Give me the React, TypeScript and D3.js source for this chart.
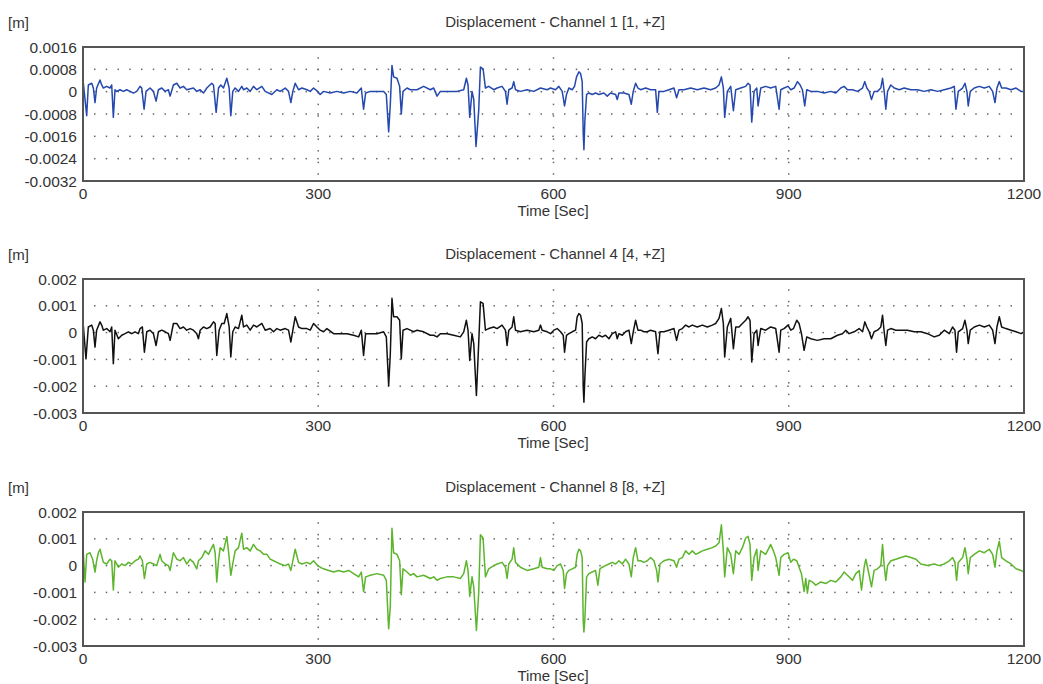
import * as d3 from 'd3'

// Time axis (seconds)
const xTicks = [0, 300, 600, 900, 1200]
const ch1Ticks = [0.0016, 0.0008, 0, -0.0008, -0.0016, -0.0024, -0.0032]
const ch48Ticks = [0.002, 0.001, 0, -0.001, -0.002, -0.003]

const titles = [
  'Displacement - Channel 1 [1, +Z]',
  'Displacement - Channel 4 [4, +Z]',
  'Displacement - Channel 8 [8, +Z]',
]

// [time s, displacement mm]
const ch1: [number, number][] = [
  [0, 0.42], [4.7, -0.86], [6.8, 0.24], [11.1, 0.3], [13.2, 0.13], [15.3, -0.39], [17.4, 0.13], [21.7, 0.42], [23.8, 0.24], [26, 0.13],
  [30.2, 0.19], [34.5, 0.13], [36.6, 0.24], [38.7, -0.92], [40.8, 0.07], [43, 0.01], [47.2, 0.07], [51.5, 0.01], [55.7, 0.07], [60, 0.01],
  [64.3, -0.05], [68.5, 0.01], [72.8, 0.19], [74.9, 0.13], [77.9, -0.63], [80.4, 0.01], [85.5, 0.13], [89.8, 0.01], [93.2, -0.34], [96.2, 0.07],
  [100.4, 0.13], [104.7, 0.01], [108.9, 0.07], [111.1, -0.16], [115.3, 0.24], [119.6, 0.3], [123.8, 0.13], [128.1, 0.19], [132.3, 0.07], [140.8, 0.13],
  [145.1, 0.01], [149.4, 0.07], [153.6, -0.05], [157.9, 0.13], [164.2, 0.3], [166.4, 0.24], [169.8, -0.74], [172.8, 0.13], [175.7, 0.24], [179.1, 0.13],
  [183.4, 0.48], [186.4, 0.13], [188.5, -0.86], [191, 0.01], [194, 0.13], [198.3, 0.01], [202.5, 0.19], [204.7, 0.07], [208.9, 0.13], [213.2, 0.01],
  [217.4, 0.19], [221.7, 0.07], [228.1, 0.19], [232.3, 0.01], [240.8, -0.1], [247.2, 0.07], [251.5, 0.01], [257.9, 0.13], [262.1, 0.01], [265.1, -0.39],
  [267.6, 0.01], [270.6, 0.3], [274.9, 0.07], [279.1, 0.13], [285.5, 0.07], [289.8, 0.01], [294, 0.13], [299.1, 0.01], [302.5, -0.1], [306.8, 0.01],
  [315.3, -0.05], [323.8, 0.01], [332.3, -0.05], [340.8, 0.01], [349.3, -0.05], [354.9, 0.13], [357.8, -0.63], [360.4, -0.05], [366.4, 0.01], [374.9, 0.01],
  [383.4, 0.01], [386.8, -0.1], [389.8, -1.44], [391.9, -0.45], [394, 0.94], [396.1, 0.53], [400.4, 0.48], [403.8, 0.19], [405.9, -0.8], [408.1, 0.01],
  [413.2, 0.13], [417.4, 0.07], [425.9, 0.07], [434.4, 0.19], [442.9, 0.07], [447.2, 0.13], [451.5, -0.16], [455.7, 0.01], [464.2, 0.01], [477, 0.01],
  [485.5, 0.07], [488.9, 0.48], [491, 0.24], [493.2, -0.92], [496.1, 0.01], [498.3, -0.28], [501.2, -1.96], [504.6, -0.68], [506.8, 0.88], [510.2, 0.82],
  [513.2, 0.13], [517.4, 0.19], [523.8, 0.07], [528.1, 0.13], [534.4, 0.19], [538.7, 0.01], [540.8, -0.45], [543, 0.07], [547.2, 0.13], [549.3, 0.36],
  [551.5, 0.07], [557.8, 0.01], [566.3, 0.07], [574.9, 0.01], [583.4, 0.13], [591.9, 0.07], [596.2, 0.13], [602.6, 0.07], [606.8, 0.19], [611.1, 0.01],
  [614.1, -0.51], [616.6, -0.1], [619.6, 0.13], [623.9, 0.07], [626.8, 0.19], [629.4, 0.53], [632.4, 0.71], [634.5, 0.65], [636.6, 0.36], [637.9, -1.49],
  [638.8, -2.08], [640, -1.04], [642.2, -0.1], [645.1, -0.05], [649.4, -0.1], [653.6, -0.05], [657.9, -0.1], [664.3, -0.05], [668.5, -0.16], [672.8, -0.05],
  [679.2, -0.1], [681.3, -0.28], [683.4, -0.05], [689.8, -0.05], [696.2, -0.1], [699.2, -0.45], [701.7, 0.01], [704.7, 0.3], [707.7, 0.13], [711.1, 0.07],
  [717.5, 0.13], [723.9, 0.07], [730.2, 0.07], [732.4, -0.74], [734.5, 0.01], [740.9, 0.01], [747.2, 0.07], [753.6, 0.13], [757, -0.22], [760, 0.07],
  [766.4, 0.07], [774.9, 0.13], [783.4, 0.07], [791.9, 0.13], [800.4, 0.07], [806.8, 0.13], [811.1, 0.24], [814.1, 0.53], [816.6, 0.13], [818.3, -0.92],
  [821.7, 0.01], [826, 0.19], [829.4, -0.68], [832.4, 0.07], [838.7, 0.13], [845.1, 0.19], [848.1, 0.3], [850.6, 0.24], [852.8, -1.09], [855.8, 0.01],
  [859.2, 0.13], [860.9, -0.51], [864.3, 0.13], [870.6, 0.19], [877, 0.13], [883.4, 0.19], [887.7, -0.63], [889.8, 0.07], [894.1, 0.13], [899.1, 0.19],
  [902.6, 0.07], [906.8, 0.13], [911.1, 0.36], [914.5, 0.24], [917.4, 0.07], [920.4, -0.51], [923, 0.07], [928.1, 0.01], [936.6, 0.01], [945.1, -0.05],
  [953.6, 0.01], [960, -0.05], [966.4, 0.13], [970.6, 0.19], [974.9, 0.07], [981.3, 0.07], [987.7, 0.01], [994.1, 0.13], [997, 0.36], [999.6, 0.13],
  [1002.6, 0.01], [1005.5, -0.28], [1008.9, 0.01], [1013.2, 0.01], [1017.4, 0.13], [1019.6, 0.48], [1021.7, 0.01], [1023.8, -0.63], [1026, 0.01], [1030.2, 0.24],
  [1034.5, 0.13], [1040.8, 0.07], [1047.2, 0.13], [1055.7, 0.07], [1064.2, 0.07], [1072.8, 0.01], [1081.3, 0.07], [1089.8, 0.01], [1098.3, 0.07], [1106.8, 0.13],
  [1111.1, 0.19], [1113.2, -0.63], [1116.2, 0.01], [1121.7, 0.13], [1124.7, 0.3], [1127.2, 0.01], [1128.9, -0.51], [1131.5, 0.01], [1136.6, 0.13], [1143, 0.19],
  [1149.4, 0.13], [1155.7, 0.19], [1160, 0.01], [1163, -0.39], [1165.5, 0.13], [1168.5, 0.36], [1171.5, 0.13], [1177, 0.13], [1183.4, 0.07], [1189.8, 0.13],
  [1196.2, 0.01], [1200, 0.01],
]

const ch4: [number, number][] = [
  [0, 0.4], [3.8, -0.98], [6.8, 0.21], [11.1, 0.28], [13.2, 0.09], [15.3, -0.54], [17.4, 0.09], [21.7, 0.4], [23.8, 0.28], [26, 0.09],
  [30.2, 0.15], [34.5, 0.03], [36.6, 0.21], [38.7, -1.16], [40.8, 0.09], [45.1, -0.23], [49.4, -0.1], [53.6, -0.04], [57.9, 0.03], [62.1, -0.04],
  [66.4, 0.03], [70.6, -0.04], [72.8, 0.15], [75.7, 0.21], [78.3, -0.73], [81.3, 0.03], [85.5, 0.09], [89.8, -0.04], [93.2, -0.48], [96.2, 0.03],
  [100.4, 0.09], [104.7, 0.03], [108.9, -0.04], [111.1, -0.29], [115.3, 0.34], [119.6, 0.34], [123.8, 0.15], [128.1, 0.21], [132.3, 0.09], [136.6, 0.15],
  [140.8, 0.09], [145.1, -0.04], [147.2, -0.23], [149.4, 0.09], [153.6, 0.21], [157.9, 0.15], [162.1, 0.21], [166.4, 0.4], [168.5, 0.34], [170.6, -0.85],
  [173.6, 0.09], [177, 0.34], [180, 0.34], [183.4, 0.71], [186.4, 0.21], [188.5, -0.91], [191, 0.03], [194, 0.21], [198.3, 0.15], [202.5, 0.65],
  [204.7, 0.21], [208.9, 0.28], [213.2, 0.09], [217.4, 0.28], [221.7, 0.21], [228.1, 0.34], [232.3, 0.09], [238.7, 0.15], [243, 0.03], [247.2, 0.15],
  [251.5, 0.09], [257.9, 0.15], [262.1, 0.09], [265.1, -0.35], [267.6, 0.09], [270.6, 0.59], [274.9, 0.21], [279.1, 0.15], [285.5, 0.15], [289.8, 0.09],
  [294, 0.34], [298.3, 0.21], [302.5, 0.09], [306.8, 0.03], [311, 0.15], [319.6, -0.04], [328.1, -0.04], [336.6, -0.04], [345.1, -0.1], [351.5, -0.16],
  [354.9, 0.09], [357.8, -0.85], [360.4, -0.04], [366.4, -0.04], [374.9, -0.04], [383.4, 0.03], [386.8, -0.16], [389.8, -1.98], [391.9, -0.79], [394, 1.28],
  [396.1, 0.59], [400.4, 0.59], [403.8, 0.46], [405.9, -0.98], [408.1, 0.09], [413.2, 0.15], [417.4, 0.09], [421.7, 0.03], [425.9, 0.09], [434.4, 0.03],
  [442.9, -0.1], [447.2, -0.1], [451.5, -0.16], [455.7, -0.04], [464.2, -0.04], [472.7, -0.1], [481.2, -0.16], [485.5, 0.03], [488.9, 0.46], [491, 0.09],
  [493.2, -1.04], [496.1, -0.04], [498.3, -0.41], [501.7, -2.35], [504.6, -0.41], [506.8, 1.15], [510.2, 1.09], [513.2, 0.09], [517.4, 0.15], [523.8, 0.21],
  [528.1, 0.15], [534.4, 0.28], [538.7, 0.09], [540.8, -0.48], [543, 0.09], [547.2, 0.21], [549.3, 0.59], [551.5, 0.09], [557.8, 0.03], [566.3, 0.09],
  [574.9, 0.03], [581.3, 0.09], [583.4, 0.28], [585.5, 0.09], [591.9, 0.03], [596.2, -0.04], [600.5, 0.09], [604.7, 0.15], [609, 0.03], [612.4, -0.1],
  [614.1, -0.73], [616.6, -0.1], [619.6, -0.04], [623.9, 0.03], [628.1, 0.09], [630.2, 0.59], [632.4, 0.71], [634.5, 0.65], [636.6, 0.34], [637.9, -2.04],
  [638.8, -2.6], [640, -1.66], [642.2, -0.35], [645.1, -0.23], [649.4, -0.16], [653.6, -0.23], [657.9, -0.1], [662.2, -0.16], [666.4, -0.1], [670.7, -0.23],
  [674.9, -0.04], [679.2, 0.03], [681.3, -0.23], [683.4, -0.04], [687.7, -0.1], [691.9, 0.03], [696.2, 0.09], [699.2, -0.41], [701.7, 0.03], [704.7, 0.46],
  [707.7, 0.09], [711.1, 0.09], [715.3, 0.03], [719.6, 0.03], [723.9, 0.09], [730.2, 0.03], [733.2, -0.79], [735.8, 0.03], [740.9, 0.03], [747.2, 0.09],
  [753.6, 0.15], [757, -0.29], [760, 0.09], [764.3, 0.15], [768.5, 0.28], [772.8, 0.21], [777, 0.28], [783.4, 0.21], [789.8, 0.28], [796.2, 0.21],
  [802.6, 0.28], [806.8, 0.34], [811.1, 0.53], [814.1, 0.9], [816.6, 0.34], [818.3, -0.91], [821.7, 0.21], [826, 0.53], [829.4, -0.6], [832.4, 0.21],
  [836.6, 0.21], [840.9, 0.34], [845.1, 0.46], [848.1, 0.59], [850.6, 0.46], [852.8, -1.1], [855.8, -0.04], [859.2, 0.09], [860.9, -0.48], [864.3, 0.15],
  [870.6, 0.09], [877, 0.21], [883.4, 0.15], [887.7, -0.73], [889.8, 0.09], [894.1, 0.15], [899.1, 0.28], [902.6, 0.09], [906, 0.15], [910.2, 0.46],
  [913.2, 0.34], [916.2, -0.04], [919.6, -0.66], [923, -0.16], [928.1, -0.23], [936.6, -0.29], [945.1, -0.23], [953.6, -0.23], [962.1, -0.1], [968.5, -0.04],
  [972.8, 0.09], [977, -0.04], [983.4, 0.03], [989.8, 0.15], [994.1, 0.03], [997, 0.4], [999.6, 0.21], [1002.6, 0.03], [1005.5, -0.23], [1008.9, 0.03],
  [1013.2, 0.09], [1017.4, 0.21], [1019.6, 0.65], [1021.7, 0.03], [1023.8, -0.48], [1026, 0.09], [1030.2, 0.15], [1036.6, 0.09], [1043, 0.09], [1051.5, 0.09],
  [1060, 0.03], [1068.5, 0.03], [1077, -0.04], [1085.5, -0.16], [1091.9, -0.1], [1098.3, 0.09], [1104.7, -0.04], [1108.9, 0.21], [1111.9, 0.09], [1114, -0.73],
  [1116.2, 0.03], [1121.7, 0.15], [1124.7, 0.46], [1127.2, 0.09], [1128.9, -0.41], [1131.5, 0.09], [1136.6, 0.21], [1143, 0.28], [1149.4, 0.21], [1155.7, 0.28],
  [1160, 0.09], [1163, -0.41], [1165.5, 0.21], [1168.5, 0.59], [1171.5, 0.21], [1177, 0.15], [1183.4, 0.09], [1189.8, 0.03], [1196.2, -0.04], [1200, 0.03],
]

const ch8: [number, number][] = [
  [0, 0.67], [2.6, -0.61], [4.7, 0.42], [8.9, 0.48], [12.3, 0.24], [15.3, -0.24], [17.4, 0.18], [19.6, 0.48], [21.7, 0.61], [23.8, 0.36],
  [26, 0.12], [30.2, 0.06], [34.5, 0.24], [36.6, 0.18], [38.7, -0.91], [40.8, 0.18], [45.1, -0.06], [49.4, 0.06], [53.6, 0], [57.9, 0.12],
  [62.1, 0.06], [66.4, 0.18], [70.6, 0.24], [72.8, 0.36], [75.7, 0.18], [78.3, -0.48], [81.3, 0.06], [85.5, 0.12], [89.8, 0.06], [94, 0],
  [98.3, 0.42], [100.4, 0.18], [104.7, 0.06], [108.9, 0], [111.1, -0.18], [115.3, 0.48], [119.6, 0.24], [123.8, 0.18], [128.1, 0.3], [132.3, 0.06],
  [136.6, 0.24], [140.8, 0.12], [145.1, -0.12], [147.2, 0.18], [151.5, 0.3], [155.7, 0.55], [160, 0.42], [164.2, 0.67], [166.4, 0.79], [168.5, 0.48],
  [170.6, -0.61], [172.8, 0.18], [174.9, 0.67], [179.1, 0.55], [183.4, 1.09], [185.5, 0.55], [188.5, -0.36], [191, 0.06], [194, 0.55], [198.3, 0.67],
  [202.5, 1.21], [204.7, 0.61], [208.9, 0.67], [213.2, 0.55], [217.4, 0.79], [221.7, 0.61], [225.9, 0.55], [230.2, 0.42], [234.5, 0.42], [238.7, 0.24],
  [243, 0.18], [247.2, 0.12], [251.5, 0.06], [257.9, 0], [262.1, 0.06], [265.1, -0.18], [267.6, 0.18], [270.6, 0.61], [274.9, 0.12], [279.1, 0.06],
  [285.5, 0.12], [289.8, 0.06], [294, 0.18], [299.1, 0], [302.5, -0.06], [306.8, -0.12], [313.2, -0.18], [319.6, -0.24], [325.9, -0.18], [332.3, -0.24],
  [338.7, -0.18], [345.1, -0.3], [351.5, -0.42], [354.9, -0.24], [357.8, -0.97], [360.4, -0.42], [366.4, -0.36], [374.9, -0.3], [383.4, -0.36], [386.8, -0.55],
  [389.8, -2.36], [391.9, -1.52], [394, 1.39], [396.1, 0.48], [400.4, 0.42], [403.8, 0.18], [405.9, -1.09], [408.1, -0.12], [413.2, -0.24], [417.4, -0.36],
  [421.7, -0.3], [425.9, -0.42], [434.4, -0.36], [442.9, -0.48], [447.2, -0.42], [451.5, -0.55], [455.7, -0.48], [464.2, -0.42], [472.7, -0.42], [481.2, -0.48],
  [485.5, -0.3], [488.9, 0.18], [491, -0.18], [493.2, -1.15], [496.1, -0.42], [498.3, -0.79], [501.7, -2.42], [504.6, -1.03], [506.8, 1.15], [510.2, 1.03],
  [513.2, -0.42], [517.4, -0.12], [523.8, 0], [528.1, 0.06], [534.4, 0.12], [538.7, -0.06], [540.8, -0.48], [543, 0.06], [547.2, 0.24], [549.3, 0.67],
  [551.5, 0.12], [557.8, -0.06], [566.3, -0.18], [574.9, -0.12], [581.3, -0.06], [583.4, 0.3], [585.5, -0.06], [591.9, -0.12], [596.2, -0.12], [600.5, -0.18],
  [604.7, 0], [609, 0.06], [612.4, -0.18], [614.1, -0.85], [616.6, -0.3], [619.6, -0.18], [623.9, -0.12], [628.1, -0.06], [630.2, 0.42], [632.4, 0.61],
  [634.5, 0.55], [636.6, 0.3], [637.9, -2.06], [638.8, -2.48], [640, -2], [642.2, -0.42], [645.1, -0.3], [649.4, -0.24], [653.6, -0.18], [656.6, -0.73],
  [659.2, -0.12], [662.2, -0.06], [666.4, 0], [670.7, 0.06], [674.9, 0.12], [679.2, 0.06], [683.4, 0.18], [687.7, 0.06], [691.9, 0.24], [696.2, 0.06],
  [699.2, -0.42], [701.7, 0.3], [704.7, 0.67], [707.7, 0.18], [711.1, 0.18], [715.3, 0.12], [719.6, 0.18], [723.9, 0.3], [728.1, 0.18], [731.5, -0.18],
  [733.2, -0.61], [735.8, 0.06], [740.9, 0.18], [747.2, 0.24], [753.6, 0.18], [757, -0.06], [760, 0.24], [764.3, 0.3], [768.5, 0.55], [772.8, 0.42],
  [777, 0.55], [781.3, 0.42], [785.5, 0.48], [789.8, 0.55], [796.2, 0.61], [802.6, 0.67], [806.8, 0.73], [811.1, 0.85], [814.1, 1.52], [816.6, 0.55],
  [818.3, -0.42], [821.7, 0.67], [826, 0.42], [829.4, -0.3], [832.4, 0.55], [836.6, 0.42], [840.9, 0.67], [845.1, 1.03], [848.1, 1.09], [850.6, 0.79],
  [852.8, -0.55], [855.8, 0.3], [859.2, 0.61], [860.9, -0.18], [864.3, 0.55], [870.6, 0.42], [877, 0.79], [880.4, 0.55], [883.4, 0.3], [887.7, -0.36],
  [889.8, 0.3], [894.1, 0.42], [899.1, 0.48], [902.6, 0.12], [906, 0.24], [910.2, 0.18], [913.2, -0.06], [916.2, -0.3], [919.6, -0.97], [921.7, -0.48],
  [923.8, -1.03], [926, -0.55], [930.2, -0.61], [934.5, -0.73], [940.9, -0.61], [947.2, -0.67], [953.6, -0.55], [960, -0.61], [966.4, -0.42], [970.6, -0.24],
  [974.9, -0.36], [981.3, -0.55], [985.5, -0.3], [989.8, -0.18], [992.8, -0.91], [996.2, -0.06], [998.3, 0.24], [1002.6, -0.36], [1005.5, -0.79], [1008.9, -0.18],
  [1013.2, -0.12], [1017.4, 0], [1019.6, 0.79], [1021.7, 0], [1023.8, -0.55], [1026, 0], [1030.2, 0.18], [1036.6, 0.24], [1043, 0.3], [1049.4, 0.36],
  [1055.8, 0.3], [1062.2, 0.24], [1068.5, 0.06], [1077, 0], [1085.5, 0.06], [1091.9, 0], [1098.3, 0.06], [1104.7, 0.18], [1108.9, 0.3], [1111.9, 0.12],
  [1114, -0.55], [1116.2, 0.12], [1121.7, 0.3], [1124.7, 0.67], [1127.2, 0.24], [1128.9, -0.3], [1131.5, 0.3], [1136.6, 0.42], [1143, 0.55], [1149.4, 0.48],
  [1155.7, 0.61], [1160, 0.42], [1163, -0.06], [1165.5, 0.55], [1168.5, 0.91], [1171.5, 0.3], [1177, 0.18], [1183.4, 0.06], [1189.8, -0.12], [1196.2, -0.18],
  [1200, -0.24],
]

const W = 1043
const H = 684
const LEFT = 83
const RIGHT = 1024
const PANEL_H = 134
const panelTops = [47, 279, 512]
const FONT = 'Liberation Sans, Arial, sans-serif'
const TEXT = '#333'

const panels = [
  { title: titles[0], ticks: ch1Ticks, color: '#2448ad', data: ch1 },
  { title: titles[1], ticks: ch48Ticks, color: '#111111', data: ch4 },
  { title: titles[2], ticks: ch48Ticks, color: '#5cb52c', data: ch8 },
]

const x = d3.scaleLinear().domain([0, 1200]).range([LEFT, RIGHT])
const fmt = (v: number) => String(Number(v.toPrecision(6)))

function Panel({ idx, top, title, ticks, color, data }: any) {
  const bottom = top + PANEL_H
  const y = d3
    .scaleLinear()
    .domain([ticks[ticks.length - 1], ticks[0]])
    .range([bottom, top])
  const line = d3
    .line<[number, number]>()
    .x(d => x(d[0]))
    .y(d => y(d[1] / 1000))
  const hDots = d3.range(LEFT + 11.75, RIGHT - 3, 11.75)
  const vDots = d3.range(top + 11, bottom - 3, 11.6)
  const clipId = `clip-${idx}`

  return (
    <g>
      <defs>
        <clipPath id={clipId}>
          <rect x={LEFT} y={top} width={RIGHT - LEFT} height={PANEL_H} />
        </clipPath>
      </defs>
      <text x={8} y={top - 19} fontSize={15} fill={TEXT}>
        [m]
      </text>
      <text x={555} y={top - 20} fontSize={15} fill={TEXT} textAnchor="middle">
        {title}
      </text>

      {/* dotted grid */}
      {ticks.slice(1, -1).map((v: number) =>
        hDots.map(px => (
          <rect key={`h${v}-${px}`} x={px - 0.75} y={y(v) - 0.75} width={1.5} height={1.5} fill="#666" />
        ))
      )}
      {xTicks.slice(1, -1).map(t =>
        vDots.map(py => (
          <rect key={`v${t}-${py}`} x={x(t) - 0.75} y={py - 0.75} width={1.5} height={1.5} fill="#666" />
        ))
      )}

      <path
        d={line(data) ?? ''}
        fill="none"
        stroke={color}
        strokeWidth={1.5}
        strokeLinejoin="round"
        clipPath={`url(#${clipId})`}
      />
      <rect x={LEFT} y={top} width={RIGHT - LEFT} height={PANEL_H} fill="none" stroke="#555" strokeWidth={2} />

      {ticks.map((v: number) => (
        <text key={`yl${v}`} x={77} y={y(v)} dy="0.36em" fontSize={15.5} fill={TEXT} textAnchor="end">
          {fmt(v)}
        </text>
      ))}
      {xTicks.map(t => (
        <text key={`xl${t}`} x={x(t)} y={bottom + 18} fontSize={15.5} fill={TEXT} textAnchor="middle">
          {t}
        </text>
      ))}
      <text x={553} y={bottom + 34.5} fontSize={15} fill={TEXT} textAnchor="middle">
        Time [Sec]
      </text>
    </g>
  )
}

export default function App() {
  return (
    <svg
      width={W}
      height={H}
      style={{ position: 'absolute', left: 0, top: 0, background: '#fff', fontFamily: FONT }}
    >
      {panels.map((p, i) => (
        <Panel key={i} idx={i} top={panelTops[i]} {...p} />
      ))}
    </svg>
  )
}
